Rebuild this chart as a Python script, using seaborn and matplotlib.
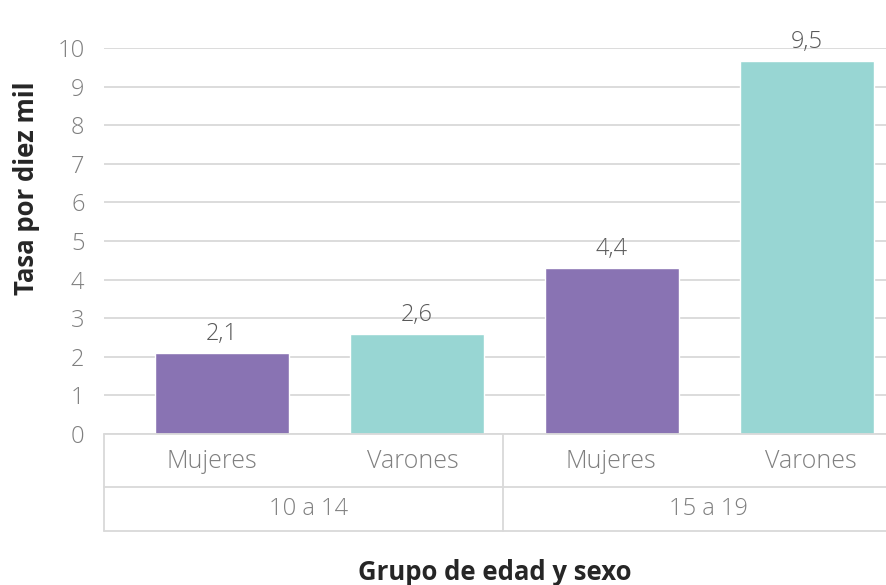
import pandas as pd
import matplotlib.pyplot as plt
from matplotlib.lines import Line2D
import seaborn as sns

# --- data ---
grupos = ["10 a 14", "10 a 14", "15 a 19", "15 a 19"]
sexos = ["Mujeres", "Varones", "Mujeres", "Varones"]
tasas = [2.1, 2.6, 4.3, 9.67]          # drawn bar heights
etiquetas = ["2,1", "2,6", "4,4", "9,5"]  # printed data labels
grupo_labels = ["10 a 14", "15 a 19"]

palette = {"Mujeres": "#8973B3", "Varones": "#98D6D3"}
GRID = "#D9D9D9"
TICK_COLOR = "#7F7F7F"

W, H = 887, 585

sns.set_theme(style="white")
plt.rcParams["font.family"] = ["Open Sans", "DejaVu Sans"]

df = pd.DataFrame({
    "slot": [f"{g} {s}" for g, s in zip(grupos, sexos)],
    "sexo": sexos,
    "tasa": tasas,
})

fig = plt.figure(figsize=(W / 100, H / 100), dpi=100)
ax = fig.add_axes([104 / W, 1 - 434 / H, 783 / W, 386 / H])

sns.barplot(data=df, x="slot", y="tasa", hue="sexo", palette=palette,
            dodge=False, width=0.69, legend=False, ax=ax, saturation=1)

ax.set_ylim(0, 10)
ax.set_xlim(-0.605, 3.41)
ax.set_yticks(range(0, 11))
ax.yaxis.grid(True, color=GRID, linewidth=1.3)
ax.set_axisbelow(True)
for s in ax.spines.values():
    s.set_visible(False)
ax.tick_params(axis="y", length=0, pad=14, labelsize=17, labelcolor=TICK_COLOR)
for t in ax.get_yticklabels():
    t.set_fontweight("light")
ax.set_xticks([])
ax.set_xlabel("")
ax.set_ylabel("")

# data labels
for i, (v, lab) in enumerate(zip(tasas, etiquetas)):
    ax.annotate(lab, (i, v), xytext=(0, 5), textcoords="offset points",
                ha="center", va="bottom", fontsize=17, color="#595959",
                fontweight="light", clip_on=False)


# --- two-level category table under the axis ---
def fx(px):
    return px / W


def fy(py):
    return 1 - py / H


def line(x0, y0, x1, y1):
    fig.add_artist(Line2D([fx(x0), fx(x1)], [fy(y0), fy(y1)],
                          color=GRID, linewidth=1.3, transform=fig.transFigure))


line(104, 434, 902, 434)
line(104, 487, 902, 487)
line(104, 531, 902, 531)
line(104, 434, 104, 531)
line(503, 434, 503, 531)

sub_x = [212, 413, 611, 811]
for x, s in zip(sub_x, sexos):
    fig.text(fx(x), fy(462), s, ha="center", va="center", fontsize=18,
             color=TICK_COLOR, fontweight="light")
for x, g in zip([309, 708], grupo_labels):
    fig.text(fx(x), fy(509), g, ha="center", va="center", fontsize=17,
             color=TICK_COLOR, fontweight="light")

fig.text(fx(495), fy(572), "Grupo de edad y sexo", ha="center", va="center",
         fontsize=18.5, fontweight="bold", color="#262626")
fig.text(fx(27), fy(188), "Tasa por diez mil", ha="center", va="center",
         rotation=90, fontsize=18.5, fontweight="bold", color="#262626")

fig.savefig("out.png", dpi=100)
